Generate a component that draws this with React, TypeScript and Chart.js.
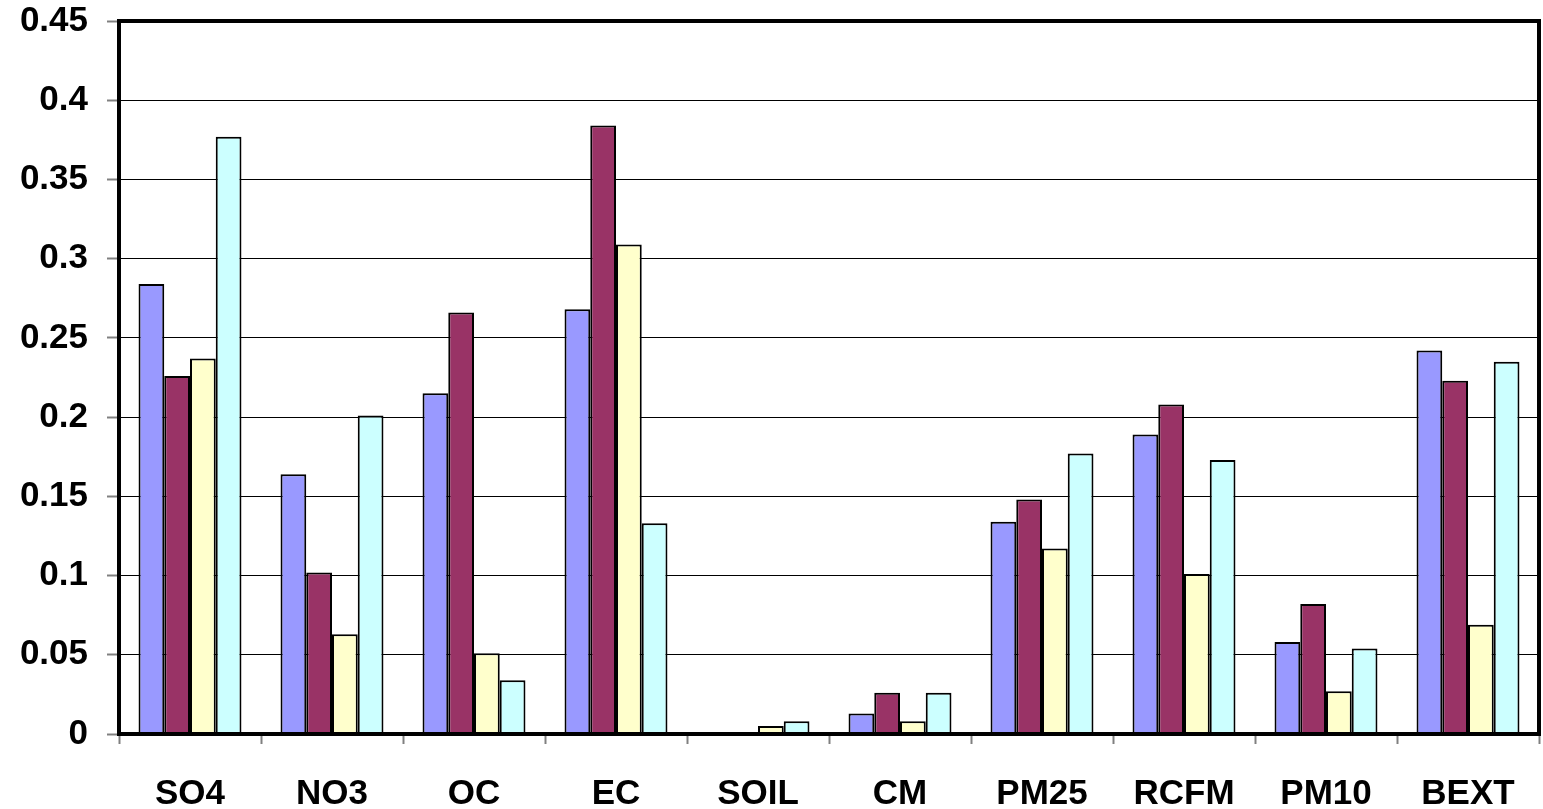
import React, { useEffect, useRef } from "react";
import { Chart, registerables } from "chart.js";

Chart.register(...registerables);

const categories = ["SO4", "NO3", "OC", "EC", "SOIL", "CM", "PM25", "RCFM", "PM10", "BEXT"];
const series1 = [0.284, 0.164, 0.215, 0.268, 0, 0.013, 0.134, 0.189, 0.058, 0.242];
const series2 = [0.226, 0.102, 0.266, 0.384, 0, 0.026, 0.148, 0.208, 0.082, 0.223];
const series3 = [0.237, 0.063, 0.051, 0.309, 0.005, 0.008, 0.117, 0.101, 0.027, 0.069];
const series4 = [0.377, 0.201, 0.034, 0.133, 0.008, 0.026, 0.177, 0.173, 0.054, 0.235];
const seriesNames = ["Series 1", "Series 2", "Series 3", "Series 4"];
const seriesColors = ["#9999FF", "#993366", "#FFFFCC", "#CCFFFF"];
const yTicks = [0, 0.05, 0.1, 0.15, 0.2, 0.25, 0.3, 0.35, 0.4, 0.45];

const FONT = "'Liberation Sans', Arial, sans-serif";

const borderPlugin = {
  id: "plotBorder",
  afterDatasetsDraw(chart: any) {
    const { ctx, chartArea } = chart;
    ctx.save();
    ctx.strokeStyle = "#000";
    ctx.lineWidth = 4;
    ctx.strokeRect(chartArea.left, chartArea.top, chartArea.right - chartArea.left, chartArea.bottom - chartArea.top);
    ctx.restore();
  },
};

export default function App() {
  const ref = useRef<HTMLCanvasElement | null>(null);
  useEffect(() => {
    if (!ref.current) return;
    const data = [series1, series2, series3, series4];
    const chart = new Chart(ref.current, {
      type: "bar",
      data: {
        labels: categories,
        datasets: data.map((d, i) => ({
          label: seriesNames[i],
          data: d,
          backgroundColor: seriesColors[i],
          borderColor: "#000",
          borderWidth: 2,
          categoryPercentage: 0.725,
          barPercentage: 1,
        })),
      },
      options: {
        animation: false,
        responsive: true,
        maintainAspectRatio: false,
        layout: { autoPadding: false, padding: { left: 0, right: 4, top: 21, bottom: 0 } },
        plugins: { legend: { display: false }, title: { display: false }, tooltip: { enabled: false } },
        scales: {
          x: {
            offset: true,
            border: { display: false },
            afterFit(scale: any) {
              scale.height = 75;
              scale.paddingTop = 0;
              scale.paddingBottom = 0;
              scale.paddingLeft = 0;
              scale.paddingRight = 0;
            },
            grid: {
              offset: true,
              drawOnChartArea: false,
              drawTicks: true,
              tickLength: 10,
              tickColor: "#808080",
              tickWidth: 2,
            },
            ticks: {
              color: "#000",
              font: { family: FONT, size: 35, weight: "bold" },
              padding: 29,
              maxRotation: 0,
              autoSkip: false,
            },
          },
          y: {
            min: 0,
            max: 0.45,
            border: { display: false },
            afterFit(scale: any) {
              scale.width = 119;
              scale.paddingTop = 0;
              scale.paddingBottom = 0;
              scale.paddingLeft = 0;
              scale.paddingRight = 0;
            },
            afterBuildTicks(scale: any) {
              scale.ticks = yTicks.map((v) => ({ value: v }));
            },
            grid: {
              color: "#000",
              lineWidth: 1,
              tickLength: 12,
              tickColor: "#808080",
              tickWidth: 2,
            },
            ticks: {
              color: "#000",
              font: { family: FONT, size: 35, weight: "bold" },
              padding: 19,
              callback: (v: any) => String(Number(v)),
            },
          },
        },
      },
      plugins: [borderPlugin],
    });
    return () => chart.destroy();
  }, []);
  return (
    <div style={{ position: "fixed", left: 0, top: 0, width: 1543, height: 809, background: "#fff" }}>
      <canvas ref={ref} />
    </div>
  );
}
